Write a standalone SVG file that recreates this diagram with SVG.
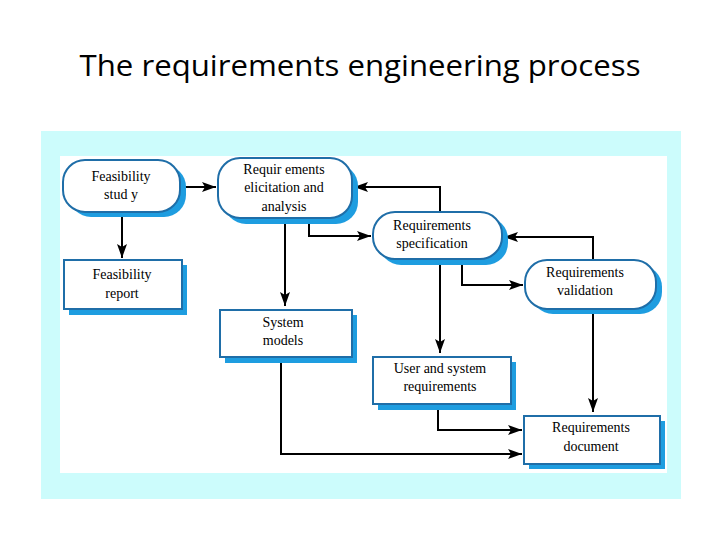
<svg xmlns="http://www.w3.org/2000/svg" width="720" height="540" viewBox="0 0 720 540">
<defs>
<style>
.sh{fill:#1e9de0;stroke:none}
.nd{fill:#ffffff;stroke:#1f6ea8;stroke-width:2}
.cn{fill:none;stroke:#000;stroke-width:2}
.tx{font-family:'Liberation Serif','DejaVu Serif',serif;font-size:14px;text-anchor:middle;fill:#000}
</style>
<marker id="ah" viewBox="0 0 14 10" refX="14" refY="5" markerWidth="14" markerHeight="10" markerUnits="userSpaceOnUse" orient="auto">
<path d="M0,0 L14,5 L0,10 L3,5 Z" fill="#000"/>
</marker>
</defs>
<rect x="0" y="0" width="720" height="540" fill="#ffffff"/>
<text x="360" y="76" font-family="Open Sans, Noto Sans, sans-serif" font-size="30" text-anchor="middle" textLength="561" lengthAdjust="spacingAndGlyphs" fill="#000">The requirements engineering process</text>
<rect x="41" y="131" width="640" height="368" fill="#ccfcfc"/>
<rect x="60" y="156" width="607" height="317" fill="#ffffff"/>

<g id="connectors">
<path class="cn" d="M182,187 L216,187" marker-end="url(#ah)"/>
<path class="cn" d="M122,214 L122,258" marker-end="url(#ah)"/>
<path class="cn" d="M285,219 L285,306" marker-end="url(#ah)"/>
<path class="cn" d="M309,219 L309,236 L371,236" marker-end="url(#ah)"/>
<path class="cn" d="M440,211 L440,187 L354,187" marker-end="url(#ah)"/>
<path class="cn" d="M440,260 L440,353" marker-end="url(#ah)"/>
<path class="cn" d="M462,259 L462,285 L523,285" marker-end="url(#ah)"/>
<path class="cn" d="M593,260 L593,237 L504,237" marker-end="url(#ah)"/>
<path class="cn" d="M593,310 L593,412" marker-end="url(#ah)"/>
<path class="cn" d="M438,404 L438,430 L522,430" marker-end="url(#ah)"/>
<path class="cn" d="M281,357 L281,454 L522,454" marker-end="url(#ah)"/>
</g>

<g id="feasibility-study">
<rect class="sh" x="69" y="165" width="117" height="52" rx="22"/>
<rect class="nd" x="63" y="160" width="117" height="52" rx="22"/>
<text class="tx" x="121" y="181">Feasibility</text>
<text class="tx" x="121" y="199">stud y</text>
</g>

<g id="feasibility-report">
<rect class="sh" x="69" y="265" width="118" height="50"/>
<rect class="nd" x="64" y="260" width="118" height="49"/>
<text class="tx" x="122" y="279">Feasibility</text>
<text class="tx" x="122" y="298">report</text>
</g>

<g id="requirements-elicitation">
<rect class="sh" x="224" y="164" width="134" height="60" rx="22"/>
<rect class="nd" x="218" y="158" width="134" height="60" rx="22"/>
<text class="tx" x="284" y="174">Requir ements</text>
<text class="tx" x="284" y="192">elicitation and</text>
<text class="tx" x="284" y="211">analysis</text>
</g>

<g id="requirements-specification">
<rect class="sh" x="379" y="217" width="129" height="48" rx="22"/>
<rect class="nd" x="373" y="212" width="129" height="47" rx="22"/>
<text class="tx" x="432" y="230">Requirements</text>
<text class="tx" x="432" y="248">specification</text>
</g>

<g id="requirements-validation">
<rect class="sh" x="531" y="265" width="131" height="49" rx="22"/>
<rect class="nd" x="525" y="260" width="131" height="49" rx="22"/>
<text class="tx" x="585" y="277">Requirements</text>
<text class="tx" x="585" y="295">validation</text>
</g>

<g id="system-models">
<rect class="sh" x="225" y="315" width="132" height="48"/>
<rect class="nd" x="220" y="310" width="132" height="47"/>
<text class="tx" x="283" y="327">System</text>
<text class="tx" x="283" y="345">models</text>
</g>

<g id="user-system-requirements">
<rect class="sh" x="378" y="362" width="138" height="48"/>
<rect class="nd" x="373" y="357" width="138" height="47"/>
<text class="tx" x="440" y="373">User and system</text>
<text class="tx" x="440" y="391">requirements</text>
</g>

<g id="requirements-document">
<rect class="sh" x="529" y="421" width="136" height="48"/>
<rect class="nd" x="524" y="416" width="136" height="48"/>
<text class="tx" x="591" y="432">Requirements</text>
<text class="tx" x="591" y="451">document</text>
</g>
</svg>
